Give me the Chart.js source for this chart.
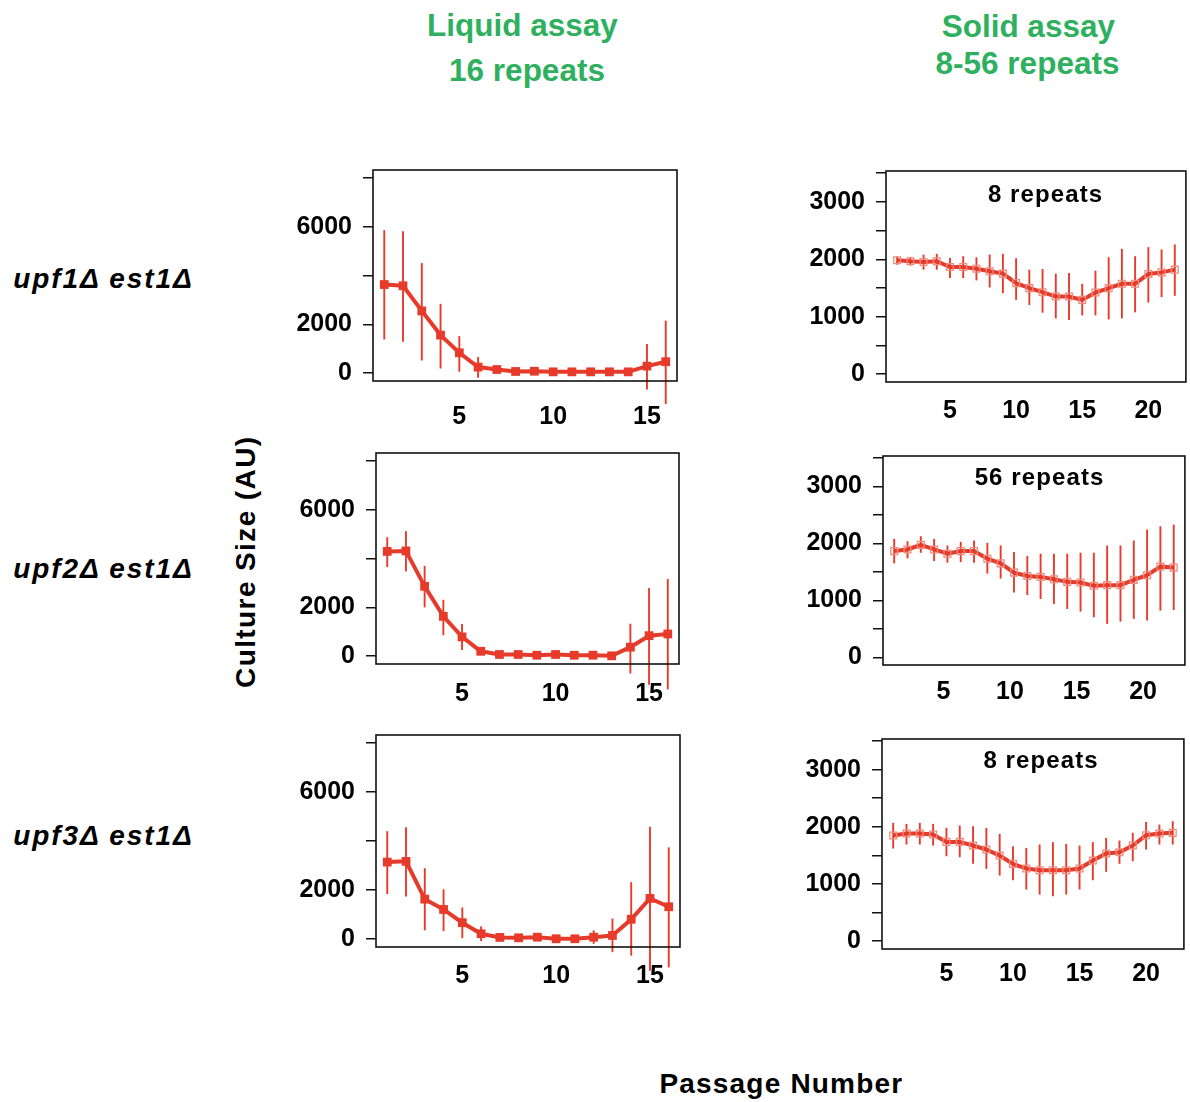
<!DOCTYPE html>
<html><head><meta charset="utf-8">
<script src="https://cdn.jsdelivr.net/npm/chart.js@4.4.1/dist/chart.umd.min.js"></script>
<style>
html,body{margin:0;padding:0;background:#fff;}
#page{position:relative;width:1190px;height:1102px;overflow:hidden;background:#fff;font-family:"Liberation Sans",Arial,Helvetica,sans-serif;}
.t{position:absolute;white-space:nowrap;font-weight:bold;color:#000;}
canvas{position:absolute;}
</style></head><body><div id="page"></div>
<script>
// ---------------- data ----------------
const liquidPassages = [1,2,3,4,5,6,7,8,9,10,11,12,13,14,15,16];
const solidPassages  = [1,2,3,4,5,6,7,8,9,10,11,12,13,14,15,16,17,18,19,20,21,22];
const solidPassagesB = [1.3,2.3,3.3,4.3,5.3,6.3,7.3,8.3,9.3,10.3,11.3,12.3,13.3,14.3,15.3,16.3,17.3,18.3,19.3,20.3,21.3,22.3];

const liquidYTicks  = [0,2000,4000,6000,8000];
const liquidYLabels = [0,2000,6000];
const liquidXTicks  = [5,10,15];
const solidYTicks   = [0,500,1000,1500,2000,2500,3000,3500];
const solidYLabels  = [0,1000,2000,3000];
const solidXTicks   = [5,10,15,20];

// upf1 est1 - liquid
const upf1LiquidMean = [3630,3580,2550,1560,835,250,150,70,80,55,55,55,55,55,290,470];
const upf1LiquidHi   = [5860,5810,4510,2840,1520,660,250,150,160,130,130,130,130,130,1200,2150];
const upf1LiquidLo   = [1380,1290,520,190,60,-190,50,-10,0,-20,-20,-20,-20,-20,-670,-1260];
// upf2 est1 - liquid
const upf2LiquidMean = [4290,4310,2860,1630,790,200,70,70,40,70,40,40,15,370,840,910];
const upf2LiquidHi   = [4870,5120,3700,2310,1320,330,150,150,120,150,120,120,90,1330,2790,3160];
const upf2LiquidLo   = [3650,3470,2000,860,250,80,-10,-10,-40,-10,-40,-40,-60,-710,-1170,-1360];
// upf3 est1 - liquid
const upf3LiquidMean = [3140,3170,1630,1210,670,220,70,55,80,15,15,80,150,810,1660,1320];
const upf3LiquidHi   = [4400,4560,2890,2030,1290,520,150,130,170,90,90,360,840,2320,4580,3740];
const upf3LiquidLo   = [1840,1740,360,330,40,-80,-10,-20,-10,-60,-60,-190,-530,-670,-1290,-1150];

// upf1 est1 - solid (8 repeats)
const upf1SolidMean = [1983,1965,1953,1965,1865,1865,1836,1790,1750,1585,1497,1427,1351,1351,1293,1421,1497,1573,1573,1743,1772,1819];
const upf1SolidHi   = [2050,2040,2081,2094,2023,2053,2035,2082,2094,2018,1819,1831,1749,1760,1573,1802,2035,2182,2053,2211,2170,2258];
const upf1SolidLo   = [1906,1890,1819,1819,1672,1672,1632,1509,1410,1293,1205,1070,971,942,1023,1023,953,971,1076,1246,1340,1363];
// upf2 est1 - solid (56 repeats)
const upf2SolidMean = [1865,1894,1975,1894,1819,1865,1865,1731,1650,1487,1429,1412,1371,1325,1313,1255,1267,1267,1360,1441,1592,1575];
const upf2SolidHi   = [2080,2039,2127,2080,1964,2028,2051,2010,1964,1848,1778,1819,1819,1819,1836,1836,1964,1964,2051,2243,2301,2330];
const upf2SolidLo   = [1650,1737,1836,1691,1662,1673,1662,1470,1383,1139,1092,1023,935,848,802,703,587,627,674,645,819,831];
// upf3 est1 - solid (8 repeats)
const upf3SolidMean = [1848,1883,1883,1866,1737,1737,1673,1603,1498,1353,1271,1242,1242,1242,1271,1411,1533,1557,1673,1854,1883,1895];
const upf3SolidHi   = [2070,2052,2070,2052,1982,2023,2012,1982,1877,1662,1632,1691,1732,1702,1673,1732,1807,1761,1895,2087,2041,2099];
const upf3SolidLo   = [1621,1691,1691,1673,1487,1469,1353,1265,1148,1067,904,816,787,816,904,1067,1213,1353,1399,1603,1691,1691];

const rowLabels = ["upf1\u0394 est1\u0394","upf2\u0394 est1\u0394","upf3\u0394 est1\u0394"];
const repeatLabels = ["8 repeats","56 repeats","8 repeats"];

// ---------------- layout / style ----------------
const RED = '#e63a2a';
const OPEN = '#f08a7c';
const GREEN = '#2eb05e';
const FONT = '"Liberation Sans", Arial, Helvetica, sans-serif';
const TICK_FS = 25;
const page = document.getElementById('page');
const YW = 90, XH = 60, TOP = 20;

function addText(txt, opts){
  const d = document.createElement('div');
  d.className = 't';
  d.textContent = txt;
  const fs = opts.fs;
  d.style.fontSize = fs + 'px';
  d.style.lineHeight = fs + 'px';
  if (opts.italic) d.style.fontStyle = 'italic';
  if (opts.color) d.style.color = opts.color;
  const ls = opts.ls || 0;
  if (ls) d.style.letterSpacing = ls + 'px';
  const top = opts.baseline - 0.8465 * fs;
  d.style.top = top + 'px';
  if (opts.cx !== undefined){
    d.style.left = (opts.cx - 500 + ls/2) + 'px';
    d.style.width = '1000px';
    d.style.textAlign = 'center';
  } else {
    d.style.left = opts.left + 'px';
  }
  page.appendChild(d);
  return d;
}

function makeChart(spec){
  const box = spec.box;
  const rp = spec.rp;
  const c = document.createElement('canvas');
  const w = YW + (box.R - box.L) + rp;
  const h = TOP + (box.B - box.T) + XH;
  c.width = w; c.height = h;
  c.style.width = w + 'px'; c.style.height = h + 'px';
  c.style.left = (box.L - YW) + 'px';
  c.style.top = (box.T - TOP) + 'px';
  page.appendChild(c);

  const filled = spec.style === 'filled';
  const pts = spec.xs.map((x,i)=>({x:x, y:spec.mean[i]}));
  const errPlugin = {
    id: 'frameAndErrors',
    beforeDatasetsDraw(chart){
      const ctx = chart.ctx;
      const xs = chart.scales.x, ys = chart.scales.y;
      ctx.save();
      ctx.strokeStyle = RED;
      ctx.lineWidth = 1.9;
      spec.xs.forEach((x,i)=>{
        const px = xs.getPixelForValue(x);
        ctx.beginPath();
        ctx.moveTo(px, ys.getPixelForValue(spec.lo[i]));
        ctx.lineTo(px, ys.getPixelForValue(spec.hi[i]));
        ctx.stroke();
      });
      ctx.restore();
    },
    afterDraw(chart){
      const ctx = chart.ctx, a = chart.chartArea;
      ctx.save();
      ctx.strokeStyle = '#111';
      ctx.lineWidth = 1.6;
      ctx.strokeRect(a.left, a.top, a.right - a.left, a.bottom - a.top);
      ctx.restore();
    }
  };

  const chart = new Chart(c, {
    type: 'line',
    data: { datasets: [{
      data: pts,
      borderColor: RED,
      borderWidth: 4,
      tension: 0,
      clip: false,
      pointStyle: 'rect',
      pointRadius: filled ? 6.2 : 4.8,
      pointBackgroundColor: filled ? RED : 'rgba(0,0,0,0)',
      pointBorderColor: filled ? RED : OPEN,
      pointBorderWidth: filled ? 0 : 1.3
    }]},
    options: {
      animation: false,
      responsive: false,
      devicePixelRatio: 1,
      events: [],
      layout: { padding: { top: TOP, right: rp, left: 0, bottom: 0 } },
      plugins: { legend: { display: false }, tooltip: { enabled: false } },
      scales: {
        x: {
          type: 'linear',
          min: spec.xMin, max: spec.xMax,
          afterBuildTicks: s => { s.ticks = spec.xTicks.map(v => ({ value: v })); },
          afterFit: s => { s.height = XH; s.paddingLeft = 0; s.paddingRight = 0; },
          grid: { display: false },
          border: { display: false },
          ticks: { color: '#000', font: { family: FONT, size: TICK_FS, weight: 'bold' }, padding: spec.xPad,
                   maxRotation: 0, autoSkip: false, callback: v => String(v) }
        },
        y: {
          type: 'linear',
          min: spec.yMin, max: spec.yMax,
          afterBuildTicks: s => { s.ticks = spec.yTicks.map(v => ({ value: v })); },
          afterFit: s => { s.width = YW; s.paddingTop = 0; s.paddingBottom = 0; },
          grid: { drawOnChartArea: false, drawTicks: true, tickLength: 10, color: '#111', lineWidth: 1.5 },
          border: { display: false },
          ticks: { color: '#000', font: { family: FONT, size: TICK_FS, weight: 'bold' }, padding: 11,
                   autoSkip: false, callback: v => (spec.yLabels.includes(v) ? String(v) : '') }
        }
      }
    },
    plugins: [errPlugin]
  });

  // align the plot frame with the intended box
  for (let k = 0; k < 2; k++){
    const ca = chart.chartArea;
    const cw = chart.width, ch = chart.height;
    const newW = Math.round(ca.left + (box.R - box.L) + (cw - ca.right));
    const newH = Math.round(ca.top + (box.B - box.T) + (ch - ca.bottom));
    if (newW !== cw || newH !== ch) chart.resize(newW, newH);
  }
  const ca = chart.chartArea;
  c.style.left = (box.L - ca.left) + 'px';
  c.style.top = (box.T - ca.top) + 'px';
  return chart;
}

// ---------------- charts ----------------
const liquidCommon = { xMin: 0.4, xMax: 16.6, yMin: -320, yMax: 8320, yTicks: liquidYTicks, yLabels: liquidYLabels, xTicks: liquidXTicks, style: 'filled', rp: 10, xs: liquidPassages };
const solidCommon  = { xMin: 0.16, xMax: 22.84, yMin: -136, yMax: 3536, yTicks: solidYTicks, yLabels: solidYLabels, xTicks: solidXTicks, style: 'open', rp: 4, xs: solidPassages };

makeChart(Object.assign({}, liquidCommon, { box: {L:373,T:170,R:677,B:381}, xPad: 13, mean: upf1LiquidMean, hi: upf1LiquidHi, lo: upf1LiquidLo }));
makeChart(Object.assign({}, liquidCommon, { box: {L:376,T:453,R:679,B:664}, xPad: 7, mean: upf2LiquidMean, hi: upf2LiquidHi, lo: upf2LiquidLo }));
makeChart(Object.assign({}, liquidCommon, { box: {L:376,T:735,R:680,B:947}, xPad: 6, mean: upf3LiquidMean, hi: upf3LiquidHi, lo: upf3LiquidLo }));

makeChart(Object.assign({}, solidCommon, { box: {L:886,T:171,R:1188,B:382}, xPad: 6, mean: upf1SolidMean, hi: upf1SolidHi, lo: upf1SolidLo }));
makeChart(Object.assign({}, solidCommon, { box: {L:883,T:456,R:1187,B:665}, xPad: 4, xMin: 0.46, xMax: 23.14, xs: solidPassagesB, mean: upf2SolidMean, hi: upf2SolidHi, lo: upf2SolidLo }));
makeChart(Object.assign({}, solidCommon, { box: {L:882,T:739,R:1186,B:949}, xPad: 2, mean: upf3SolidMean, hi: upf3SolidHi, lo: upf3SolidLo }));

// ---------------- text ----------------
addText('Liquid assay', { cx: 522.5, baseline: 36.7, fs: 31.5, color: GREEN });
addText('16 repeats',   { cx: 527,   baseline: 81.7, fs: 31.5, color: GREEN });
addText('Solid assay',  { cx: 1028.3, baseline: 37.3, fs: 31.5, color: GREEN });
addText('8-56 repeats', { cx: 1027.5, baseline: 75,   fs: 31.5, color: GREEN });

const rowBaselines = [288.5, 578.5, 845.5];
rowLabels.forEach((t,i)=> addText(t, { left: 13.3, baseline: rowBaselines[i], fs: 28, italic: true, ls: 1.9 }));

const repeatPos = [[1045,202.7],[1039,485.7],[1040.5,768.3]];
repeatLabels.forEach((t,i)=> addText(t, { cx: repeatPos[i][0], baseline: repeatPos[i][1], fs: 24, ls: 1.1 }));

addText('Passage Number', { cx: 780.8, baseline: 1093.3, fs: 28, ls: 1.2 });

// rotated y-axis title
(function(){
  const fs = 28, ls = 1.4;
  const d = document.createElement('div');
  d.className = 't';
  d.textContent = 'Culture Size (AU)';
  d.style.fontSize = fs + 'px';
  d.style.lineHeight = fs + 'px';
  d.style.letterSpacing = ls + 'px';
  d.style.width = '400px';
  d.style.textAlign = 'center';
  const cx = 245.5, cy = 561;
  d.style.left = (cx - 200) + 'px';
  d.style.top = (cy - fs/2) + 'px';
  d.style.transformOrigin = '200px ' + (fs/2) + 'px';
  d.style.transform = 'rotate(-90deg) translateX(' + (-ls/2) + 'px)';
  page.appendChild(d);
})();
</script>
</body></html>
